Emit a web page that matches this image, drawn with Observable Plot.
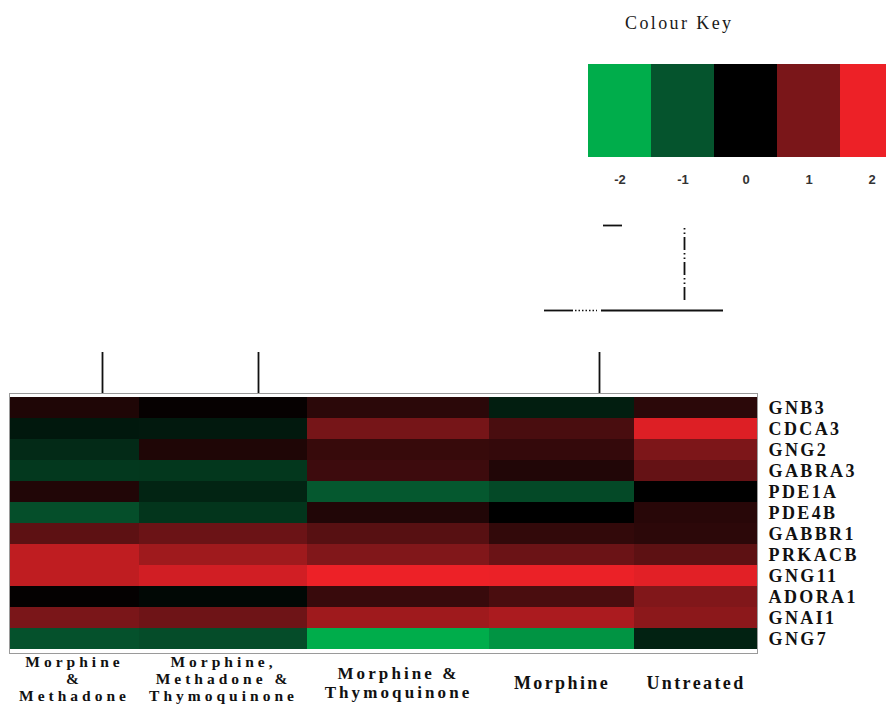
<!DOCTYPE html>
<html>
<head>
<meta charset="utf-8">
<script src="https://cdn.jsdelivr.net/npm/d3@7"></script>
<script src="https://cdn.jsdelivr.net/npm/@observablehq/plot@0.6"></script>
<style>
  html, body { margin: 0; padding: 0; background: #fff; }
  #wrap { position: relative; width: 886px; height: 706px; overflow: hidden; background: #fff; }
  #wrap > * { position: absolute; }
  #keytitle { left: 625px; top: 14px; font: 18px "Liberation Serif", serif; line-height: 18px; letter-spacing: 2.4px; color: #1a1a1a; white-space: nowrap; }
</style>
</head>
<body>
<div id="wrap"><div id="keytitle">Colour Key</div></div>
<script>
// ---- data ----
const genes = ["GNB3", "CDCA3", "GNG2", "GABRA3", "PDE1A", "PDE4B", "GABBR1", "PRKACB", "GNG11", "ADORA1", "GNAI1", "GNG7"];
const treatments = ["Morphine & Methadone", "Morphine, Methadone & Thymoquinone", "Morphine & Thymoquinone", "Morphine", "Untreated"];
const treatmentLabels = ["Morphine\n&\nMethadone", "Morphine,\nMethadone &\nThymoquinone", "Morphine &\nThymoquinone", "Morphine", "Untreated"];
const morphineMethadone = [0.25, -0.29, -0.5, -0.67, 0.27, -0.93, 0.76, 1.6, 1.6, 0.03, 1.0, -0.97];
const morphineMethadoneThymo = [0.05, -0.3, 0.25, -0.65, -0.43, -0.63, 0.88, 1.32, 1.76, -0.1, 0.9, -0.9];
const morphineThymo = [0.35, 0.97, 0.45, 0.5, -1.05, 0.27, 0.71, 1.06, 2.0, 0.46, 1.32, -2.0];
const morphine = [-0.36, 0.6, 0.43, 0.27, -0.87, 0, 0.41, 0.88, 1.98, 0.61, 1.43, -1.72];
const untreated = [0.35, 1.86, 1.03, 0.83, 0, 0.33, 0.36, 0.76, 1.9, 1.06, 1.16, -0.41];
const series = [morphineMethadone, morphineMethadoneThymo, morphineThymo, morphine, untreated];
const keyTicks = [-2, -1, 0, 1, 2];
const keyColors = ["#00ad4b", "#05542d", "#000000", "#7a1619", "#ed2127"];

// dendrogram fragments (x in column units, h in dendrogram height units)
const dendroVertical = [{x: 93, h1: 0, h2: 41}, {x: 249, h1: 0, h2: 41}, {x: 590, h1: 0, h2: 41}];
const dendroHorizontal = [{x1: 535, x2: 564, h: 83}, {x1: 592, x2: 714, h: 83}, {x1: 594, x2: 613, h: 168}];
const dendroDotted = [{x1: 566, x2: 588, h: 83}];
const dendroDashDot = [{x: 675, h1: 93, h2: 168}];

// ---- layout ----
const colSpan = [130, 168, 182, 145, 123];
const colStart = d3.cumsum([0, ...colSpan.slice(0, -1)]);
const total = d3.sum(colSpan);

const cells = treatments.flatMap((t, i) => genes.map((g, j) => ({
  treatment: t, gene: g, x1: colStart[i], x2: colStart[i] + colSpan[i], value: series[i][j]
})));
const labels = treatmentLabels.map((l, i) => ({label: l, x: colStart[i] + colSpan[i] / 2, lines: l.split("\n").length}));

const colorScale = {type: "linear", domain: keyTicks, range: keyColors, interpolate: "rgb"};
const labelFont = {fontWeight: "bold", fill: "#111"};

const wrap = document.getElementById("wrap");

const main = Plot.plot({
  width: 886, height: 706,
  marginLeft: 9, marginRight: 129, marginTop: 393, marginBottom: 53,
  x: {domain: [0, total], axis: null},
  y: {domain: genes, padding: 0, axis: null},
  color: colorScale,
  style: {fontFamily: "'Liberation Serif', serif", fontSize: "18px", fontWeight: "bold", letterSpacing: "2.4px", color: "#111", background: "transparent", overflow: "visible"},
  marks: [
    Plot.barX(cells, {x1: "x1", x2: "x2", y: "gene", fill: "value"}),
    Plot.frame({stroke: "#9a9a9a", strokeWidth: 1}),
    Plot.axisY({anchor: "right", label: null, tickSize: 0, tickPadding: 11, textAnchor: "start", fontSize: 18, ...labelFont}),
    Plot.text(labels.filter(d => d.lines === 3), {x: "x", text: "label", frameAnchor: "bottom", dy: 1, lineAnchor: "top", lineHeight: 1.11, fontSize: 15.5, ...labelFont}),
    Plot.text(labels.filter(d => d.lines === 2), {x: "x", text: "label", frameAnchor: "bottom", dy: 29, lineAnchor: "middle", lineHeight: 1.11, fontSize: 17, ...labelFont}),
    Plot.text(labels.filter(d => d.lines === 1), {x: "x", text: "label", frameAnchor: "bottom", dy: 30, lineAnchor: "middle", fontSize: 18, ...labelFont})
  ]
});
d3.select(main).selectAll('g[font-size="15.5"]').style("letter-spacing", "4px");
d3.select(main).selectAll('g[font-size="17"]').style("letter-spacing", "3.1px");
main.style.left = "0px"; main.style.top = "0px";
wrap.appendChild(main);

const dendro = Plot.plot({
  width: 886, height: 193,
  marginLeft: 9, marginRight: 129, marginTop: 0, marginBottom: 0,
  x: {domain: [0, total], axis: null},
  y: {domain: [0, 193], axis: null},
  style: {background: "transparent", overflow: "visible"},
  marks: [
    Plot.ruleX(dendroVertical, {x: "x", y1: "h1", y2: "h2", stroke: "#111", strokeWidth: 1.8}),
    Plot.ruleY(dendroHorizontal, {y: "h", x1: "x1", x2: "x2", stroke: "#111", strokeWidth: 1.8}),
    Plot.ruleY(dendroDotted, {y: "h", x1: "x1", x2: "x2", stroke: "#111", strokeWidth: 1.5, strokeDasharray: "1.5,2"}),
    Plot.ruleX(dendroDashDot, {x: "x", y1: "h1", y2: "h2", stroke: "#111", strokeWidth: 1.8, strokeDasharray: "13,3,1.5,3,1.5,3"})
  ]
});
dendro.style.left = "0px"; dendro.style.top = "200px";
wrap.appendChild(dendro);

const key = Plot.plot({
  width: 316, height: 200,
  marginLeft: 0, marginRight: 0, marginTop: 64, marginBottom: 43,
  x: {domain: keyTicks, padding: 0},
  color: colorScale,
  style: {background: "transparent", overflow: "visible"},
  marks: [
    Plot.cell(keyTicks, {x: d => d, fill: d => d}),
    Plot.axisX({label: null, tickSize: 0, tickPadding: 17, tickFormat: d => String(d), fontSize: 13, fontWeight: "bold", fontFamily: "'Liberation Sans', sans-serif", fill: "#333"})
  ]
});
key.style.left = "587px"; key.style.top = "0px";
wrap.appendChild(key);
</script>
</body>
</html>
